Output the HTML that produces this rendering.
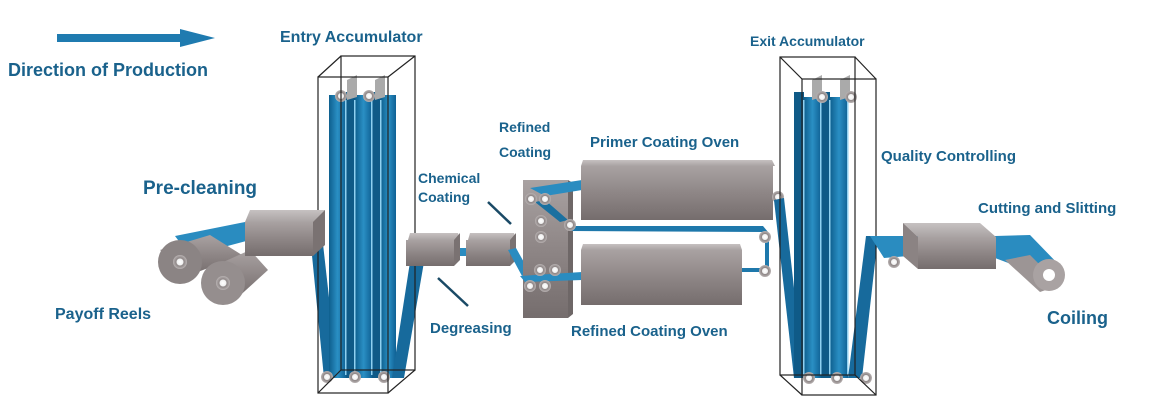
<!DOCTYPE html>
<html><head><meta charset="utf-8"><style>
html,body{margin:0;padding:0;background:#fff;}
svg{display:block}
text{font-family:"Liberation Sans",sans-serif;font-weight:bold;fill:#1a628c;}
</style></head><body>
<svg width="1167" height="407" viewBox="0 0 1167 407" xmlns="http://www.w3.org/2000/svg">
<defs>
<linearGradient id="gb" x1="0" x2="0" y1="0" y2="1"><stop offset="0" stop-color="#a9a2a2"/><stop offset="0.5" stop-color="#8e8686"/><stop offset="1" stop-color="#756d6d"/></linearGradient>
<linearGradient id="gt" x1="0" x2="0" y1="0" y2="1"><stop offset="0" stop-color="#c6c1c1"/><stop offset="1" stop-color="#a9a3a3"/></linearGradient>
<linearGradient id="bl" x1="0" x2="1"><stop offset="0" stop-color="#0e5f8e"/><stop offset="0.5" stop-color="#2a8fc4"/><stop offset="1" stop-color="#0f6194"/></linearGradient>
<radialGradient id="rl"><stop offset="0" stop-color="#fff"/><stop offset="0.45" stop-color="#f0f0f0"/><stop offset="0.55" stop-color="#8d8585"/><stop offset="1" stop-color="#b8b2b2"/></radialGradient>
<g id="roll"><circle r="6" fill="url(#rl)"/></g>
</defs>

<polygon points="57,34 180,34 180,29 215,38 180,47 180,42 57,42" fill="#1f7bb0"/>
<text x="8" y="76" font-size="18">Direction of Production</text>
<text x="280" y="42" font-size="16">Entry Accumulator</text>
<text x="143" y="194" font-size="19">Pre-cleaning</text>
<text x="55" y="319" font-size="16">Payoff Reels</text>
<text x="418" y="183" font-size="14">Chemical</text>
<text x="418" y="202" font-size="14">Coating</text>
<text x="499" y="132" font-size="14">Refined</text>
<text x="499" y="157" font-size="14">Coating</text>
<text x="590" y="147" font-size="15">Primer Coating Oven</text>
<text x="430" y="333" font-size="15">Degreasing</text>
<text x="571" y="336" font-size="15">Refined Coating Oven</text>
<text x="750" y="46" font-size="14">Exit Accumulator</text>
<text x="881" y="161" font-size="15">Quality Controlling</text>
<text x="978" y="213" font-size="15">Cutting and Slitting</text>
<text x="1047" y="324" font-size="18">Coiling</text>

<line x1="488" y1="202" x2="511" y2="224" stroke="#1a4a66" stroke-width="2.5"/>
<line x1="438" y1="278" x2="468" y2="306" stroke="#1a4a66" stroke-width="2.5"/>

<polygon points="175,236 245,222 250,240 190,256" fill="#2a8cc0"/>
<polygon points="160,250 210,235 242,255 190,275" fill="url(#gb)"/>
<circle cx="180" cy="262" r="22" fill="#8b8484"/><circle cx="180" cy="262" r="7" fill="url(#rl)"/>
<polygon points="210,268 250,250 268,270 235,300" fill="url(#gb)"/>
<circle cx="223" cy="283" r="22" fill="#958e8e"/><circle cx="223" cy="283" r="7" fill="url(#rl)"/>

<!-- entry accumulator strips -->
<polygon points="310,235 322,235 338,378 324,378" fill="#176a9c"/>
<rect x="329" y="95" width="17" height="283" fill="url(#bl)"/>
<rect x="346" y="92" width="9" height="286" fill="#0f5a87"/>
<rect x="355" y="95" width="17" height="283" fill="url(#bl)"/>
<rect x="372" y="92" width="9" height="286" fill="#0f5a87"/>
<rect x="381" y="95" width="15" height="283" fill="url(#bl)"/>
<g fill="#8fd0f0"><rect x="345" y="100" width="1.5" height="275"/><rect x="354" y="100" width="1.5" height="275"/><rect x="371" y="100" width="1.5" height="275"/><rect x="380" y="100" width="1.5" height="275"/></g>
<polygon points="392,378 404,378 424,262 410,262" fill="#176a9c"/>
<polygon points="347,80 357,75 357,97 347,100" fill="#aaa"/>
<polygon points="375,80 385,75 385,97 375,100" fill="#aaa"/>
<use href="#roll" x="341" y="96"/><use href="#roll" x="369" y="96"/>
<use href="#roll" x="327" y="377"/><use href="#roll" x="355" y="377"/><use href="#roll" x="384" y="377"/>
<g fill="none" stroke="#222" stroke-width="1.2">
<rect x="318" y="77" width="70" height="316"/>
<rect x="341" y="56" width="74" height="314"/>
<line x1="318" y1="77" x2="341" y2="56"/><line x1="388" y1="77" x2="415" y2="56"/>
<line x1="318" y1="393" x2="341" y2="370"/><line x1="388" y1="393" x2="415" y2="370"/>
</g>

<polygon points="250,210 325,210 322,222 245,222" fill="url(#gt)"/>
<rect x="245" y="222" width="68" height="34" fill="url(#gb)"/>
<polygon points="313,222 325,210 325,245 313,256" fill="#7a7272"/>

<rect x="459" y="248" width="12" height="8" fill="#2a8cc0"/>
<polygon points="410,233 458,233 460,240 408,240" fill="url(#gt)"/>
<rect x="406" y="240" width="48" height="26" fill="url(#gb)"/>
<polygon points="454,240 460,233 460,260 454,266" fill="#7a7272"/>
<polygon points="470,233 514,233 516,240 468,240" fill="url(#gt)"/>
<rect x="466" y="240" width="44" height="26" fill="url(#gb)"/>
<polygon points="510,240 516,233 516,260 510,266" fill="#7a7272"/>
<polygon points="508,250 516,248 530,273 522,276" fill="#2a8cc0"/>

<rect x="523" y="180" width="45" height="138" fill="url(#gb)"/>
<polygon points="568,180 573,183 573,314 568,318" fill="#6e6767"/>
<polygon points="530,188 582,180 582,190 545,196" fill="#2a8cc0"/>
<polygon points="535,202 560,222 568,220 545,200" fill="#1a70a0"/>
<polygon points="520,276 582,272 582,280 525,282" fill="#2a8cc0"/>
<use href="#roll" x="531" y="199"/><use href="#roll" x="545" y="199"/>
<use href="#roll" x="541" y="221"/><use href="#roll" x="541" y="237"/>
<use href="#roll" x="540" y="270"/><use href="#roll" x="555" y="270"/>
<use href="#roll" x="530" y="286"/><use href="#roll" x="545" y="286"/>

<polygon points="583,160 772,160 775,166 581,166" fill="url(#gt)"/>
<rect x="581" y="166" width="192" height="54" fill="url(#gb)"/>
<polygon points="583,244 740,244 742,250 581,250" fill="url(#gt)"/>
<rect x="581" y="250" width="161" height="55" fill="url(#gb)"/>
<polygon points="570,226 763,226 768,232 570,231" fill="#1e78ab"/>
<rect x="742" y="268" width="22" height="4" fill="#1e78ab"/>
<rect x="765" y="237" width="4" height="34" fill="#1e78ab"/>
<use href="#roll" x="570" y="225"/><use href="#roll" x="765" y="237"/><use href="#roll" x="765" y="271"/>
<use href="#roll" x="778" y="197"/>

<!-- exit accumulator -->
<polygon points="774,200 784,198 804,378 794,378" fill="#176a9c"/>
<rect x="794" y="92" width="10" height="286" fill="#0f5a87"/>
<rect x="804" y="97" width="17" height="281" fill="url(#bl)"/>
<rect x="821" y="92" width="9" height="286" fill="#0f5a87"/>
<rect x="830" y="97" width="18" height="281" fill="url(#bl)"/>
<g fill="#8fd0f0"><rect x="803" y="100" width="1.5" height="275"/><rect x="820" y="100" width="1.5" height="275"/><rect x="829" y="100" width="1.5" height="275"/><rect x="847" y="100" width="1.5" height="275"/></g>
<polygon points="848,378 862,378 878,236 866,236" fill="#176a9c"/>
<polygon points="812,80 822,75 822,97 812,100" fill="#aaa"/>
<polygon points="840,80 850,75 850,97 840,100" fill="#aaa"/>
<use href="#roll" x="822" y="97"/><use href="#roll" x="851" y="97"/>
<use href="#roll" x="809" y="378"/><use href="#roll" x="837" y="378"/><use href="#roll" x="866" y="378"/>
<g fill="none" stroke="#222" stroke-width="1.2">
<rect x="780" y="57" width="75" height="318"/>
<rect x="802" y="79" width="74" height="316"/>
<line x1="780" y1="57" x2="802" y2="79"/><line x1="855" y1="57" x2="876" y2="79"/>
<line x1="780" y1="375" x2="802" y2="395"/><line x1="855" y1="375" x2="876" y2="395"/>
</g>

<polygon points="870,236 920,236 920,255 884,258" fill="#2a8cc0"/>
<use href="#roll" x="894" y="262"/>
<polygon points="995,236 1030,235 1062,268 1040,275 995,258" fill="#2a8cc0"/>
<polygon points="1005,260 1030,255 1060,285 1040,292" fill="#9c9595"/>
<circle cx="1049" cy="275" r="16" fill="#a9a2a2"/><circle cx="1049" cy="275" r="6" fill="#fff"/>
<polygon points="903,223 980,223 996,237 918,237" fill="url(#gt)"/>
<rect x="918" y="237" width="78" height="32" fill="url(#gb)"/>
<polygon points="903,223 918,237 918,269 903,256" fill="#8b8383"/>
</svg>
</body></html>
